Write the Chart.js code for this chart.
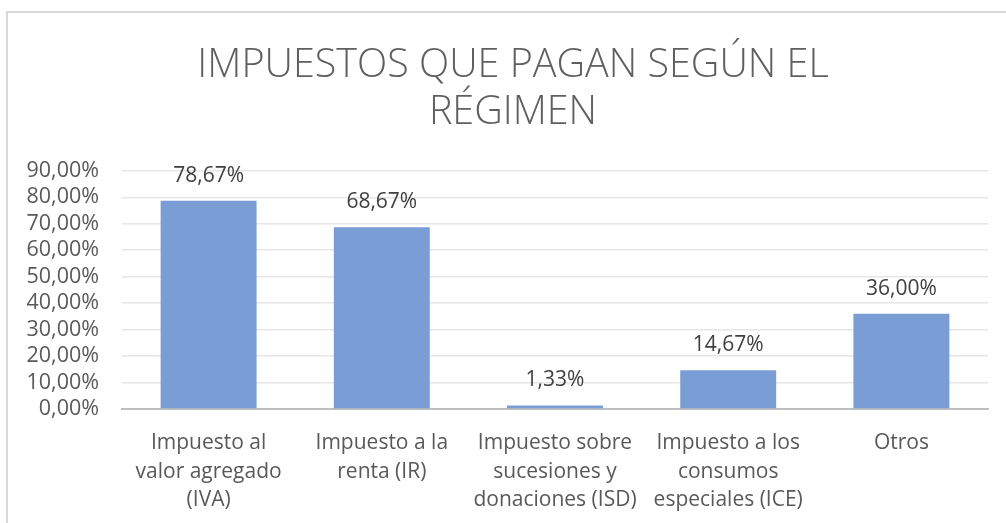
<!DOCTYPE html>
<html>
<head>
<meta charset="utf-8">
<script src="https://cdn.jsdelivr.net/npm/chart.js@4.4.0/dist/chart.umd.min.js"></script>
<style>
html,body{margin:0;padding:0;background:#fff;overflow:hidden;}
#wrap{position:relative;width:1006px;height:523px;overflow:hidden;}
#frame{position:absolute;left:6px;top:11px;right:-4px;bottom:-4px;border:2px solid #d9d9d9;pointer-events:none;}
canvas{position:absolute;left:0;top:0;}
</style>
</head>
<body>
<div id="wrap"><canvas id="c" width="1044" height="523"></canvas><div id="frame"></div></div>
<script>
const titleLines = ["IMPUESTOS QUE PAGAN SEGÚN EL", "RÉGIMEN"];
const categories = [
  ["Impuesto al", "valor agregado", "(IVA)"],
  ["Impuesto a la", "renta (IR)"],
  ["Impuesto sobre", "sucesiones y", "donaciones (ISD)"],
  ["Impuesto a los", "consumos", "especiales (ICE)"],
  ["Otros"]
];
const values = [78.67, 68.67, 1.33, 14.67, 36.00];
const yTicks = [0, 10, 20, 30, 40, 50, 60, 70, 80, 90];
const yTickLabels = ["0,00%", "10,00%", "20,00%", "30,00%", "40,00%", "50,00%", "60,00%", "70,00%", "80,00%", "90,00%"];

const FONT = "'Open Sans', 'Noto Sans', sans-serif";
function fmtPct(v) { return v.toFixed(2).replace('.', ',') + '%'; }

const dataLabels = {
  id: 'dataLabels',
  afterDatasetsDraw(chart) {
    const ctx = chart.ctx;
    const meta = chart.getDatasetMeta(0);
    ctx.save();
    ctx.font = "21px " + FONT;
    ctx.fillStyle = '#404040';
    ctx.textAlign = 'center';
    ctx.textBaseline = 'middle';
    meta.data.forEach((bar, i) => {
      ctx.fillText(fmtPct(values[i]), bar.x, bar.y - 25);
    });
    ctx.restore();
  }
};

new Chart(document.getElementById('c'), {
  type: 'bar',
  data: {
    labels: categories,
    datasets: [{
      data: values,
      backgroundColor: '#7a9dd6',
      borderWidth: 0,
      barPercentage: 0.554,
      categoryPercentage: 1.0,
      yAxisID: 'y'
    }]
  },
  options: {
    responsive: false,
    animation: false,
    devicePixelRatio: 1,
    layout: { padding: { top: 0, left: 0, right: 18, bottom: 0 } },
    plugins: {
      legend: { display: false },
      tooltip: { enabled: false },
      title: {
        display: true,
        text: titleLines,
        color: '#5f5f5f',
        font: { family: FONT, size: 39.5, weight: '300', lineHeight: 1.2 },
        padding: { top: 42, bottom: 34 }
      }
    },
    scales: {
      x: {
        grid: { display: false, drawTicks: false },
        border: { display: true, color: '#bfbfbf', width: 2 },
        ticks: {
          color: '#595959',
          font: { family: FONT, size: 21, lineHeight: 1.35 },
          padding: 20,
          maxRotation: 0,
          autoSkip: false
        },
        afterFit(scale) { scale.height = 114; }
      },
      y: {
        min: 0,
        max: 90,
        grid: { color: '#e6e6e6', lineWidth: 1.5, drawTicks: false },
        border: { display: false },
        ticks: {
          stepSize: 10,
          autoSkip: false,
          color: '#595959',
          font: { family: FONT, size: 21.5 },
          padding: 23,
          callback: (v) => yTickLabels[yTicks.indexOf(v)]
        },
        afterFit(scale) { scale.width = 122; }
      },
      yPad: {
        position: 'right',
        min: 0,
        max: 90,
        grid: { display: false, drawTicks: false },
        border: { display: false },
        ticks: { display: false },
        afterFit(scale) { scale.width = 38; }
      }
    }
  },
  plugins: [dataLabels]
});
</script>
</body>
</html>
